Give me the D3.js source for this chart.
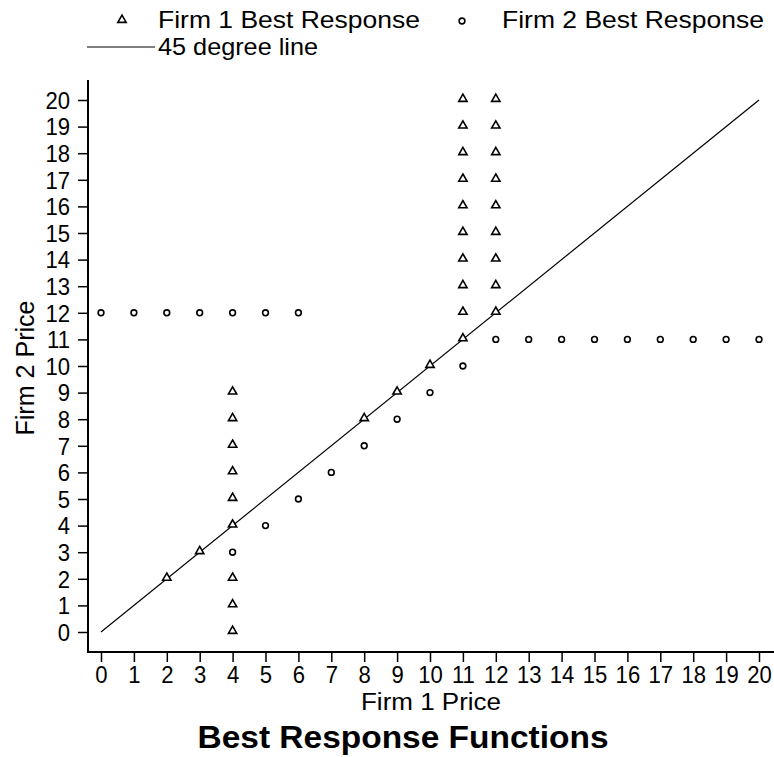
<!DOCTYPE html>
<html>
<head>
<meta charset="utf-8">
<script src="https://cdn.jsdelivr.net/npm/d3@7"></script>
<style>
  body { margin: 0; background: #fff; }
  svg { display: block; font-family: "Liberation Sans", Arial, sans-serif; }
</style>
</head>
<body>
<svg id="chart" width="774" height="757"></svg>
<script>
// best responses, [firm 1 price, firm 2 price]
const firm1BR = [
  [4,0],[4,1],[4,2],[2,2],[3,3],[4,4],[4,5],[4,6],[4,7],[4,8],[4,9],
  [8,8],[9,9],[10,10],
  [11,11],[11,12],[11,13],[11,14],[11,15],[11,16],[11,17],[11,18],[11,19],[11,20],
  [12,12],[12,13],[12,14],[12,15],[12,16],[12,17],[12,18],[12,19],[12,20]
];
const firm2BR = [
  [0,12],[1,12],[2,12],[3,12],[4,12],[5,12],[6,12],
  [4,3],[5,4],[6,5],[7,6],[8,7],[9,8],[10,9],[11,10],[12,11],
  [13,11],[14,11],[15,11],[16,11],[17,11],[18,11],[19,11],[20,11]
];
const diagonal = [[0,0],[20,20]];
const priceTicks = [0,1,2,3,4,5,6,7,8,9,10,11,12,13,14,15,16,17,18,19,20];

const svg = d3.select("#chart");

// squeeze text horizontally, the original font is a narrow one
function squeeze(sel, k) {
  sel.each(function() {
    const w = this.getComputedTextLength();
    d3.select(this).attr("textLength", w * k).attr("lengthAdjust", "spacingAndGlyphs");
  });
}

const x = d3.scaleLinear().domain([0, 20]).range([101, 759]);
const y = d3.scaleLinear().domain([0, 20]).range([632, 100]);

// axis frame
svg.append("line").attr("x1", 88).attr("x2", 88).attr("y1", 80).attr("y2", 652)
  .attr("stroke", "#000").attr("stroke-width", 2);
svg.append("line").attr("x1", 87).attr("x2", 774).attr("y1", 652).attr("y2", 652)
  .attr("stroke", "#000").attr("stroke-width", 2);

const yAxis = svg.append("g")
  .attr("transform", "translate(88,0)")
  .call(d3.axisLeft(y).tickValues(priceTicks).tickSize(10).tickPadding(8).tickFormat(d3.format("d")));
const xAxis = svg.append("g")
  .attr("transform", "translate(0,652)")
  .call(d3.axisBottom(x).tickValues(priceTicks).tickSize(10).tickPadding(5).tickFormat(d3.format("d")));

[yAxis, xAxis].forEach(g => {
  g.select(".domain").remove();
  g.selectAll(".tick line").attr("stroke", "#000").attr("stroke-width", 1.5);
  g.selectAll(".tick text")
    .attr("fill", "#000")
    .style("font-family", '"Liberation Sans", Arial, sans-serif')
    .style("font-size", "23px")
    .call(squeeze, 0.96);
});
yAxis.selectAll(".tick text").attr("dy", "0.36em");

// 45 degree line
svg.append("path")
  .datum(diagonal)
  .attr("d", d3.line().x(d => x(d[0])).y(d => y(d[1])))
  .attr("fill", "none").attr("stroke", "#000").attr("stroke-width", 1.2);

const tri = d3.symbol().type(d3.symbolTriangle).size(30);
const circ = d3.symbol().type(d3.symbolCircle).size(26);

svg.append("g").selectAll("path")
  .data(firm2BR).join("path")
  .attr("transform", d => `translate(${x(d[0])},${y(d[1])})`)
  .attr("d", circ)
  .attr("fill", "#fff").attr("stroke", "#000").attr("stroke-width", 1.6);

svg.append("g").selectAll("path")
  .data(firm1BR).join("path")
  .attr("transform", d => `translate(${x(d[0])},${y(d[1]) - 1})`)
  .attr("d", tri)
  .attr("fill", "#fff").attr("stroke", "#000").attr("stroke-width", 1.6);

// axis titles
svg.append("text")
  .attr("x", 431).attr("y", 710)
  .attr("text-anchor", "middle")
  .attr("textLength", 140).attr("lengthAdjust", "spacingAndGlyphs")
  .style("font-size", "23px")
  .text("Firm 1 Price");

svg.append("text")
  .attr("transform", "translate(34,368) rotate(-90)")
  .attr("text-anchor", "middle")
  .attr("textLength", 135).attr("lengthAdjust", "spacingAndGlyphs")
  .style("font-size", "25px")
  .text("Firm 2 Price");

svg.append("text")
  .attr("x", 403).attr("y", 748)
  .attr("text-anchor", "middle")
  .attr("textLength", 411).attr("lengthAdjust", "spacingAndGlyphs")
  .style("font-size", "32px").style("font-weight", "bold")
  .text("Best Response Functions");

// legend
const legend = svg.append("g");
legend.append("path")
  .attr("transform", "translate(122,20)")
  .attr("d", tri)
  .attr("fill", "#fff").attr("stroke", "#000").attr("stroke-width", 1.6);
legend.append("text").attr("x", 158).attr("y", 28)
  .attr("textLength", 262).attr("lengthAdjust", "spacingAndGlyphs")
  .style("font-size", "24px").text("Firm 1 Best Response");
legend.append("path")
  .attr("transform", "translate(462,21)")
  .attr("d", circ)
  .attr("fill", "#fff").attr("stroke", "#000").attr("stroke-width", 1.6);
legend.append("text").attr("x", 502).attr("y", 28)
  .attr("textLength", 262).attr("lengthAdjust", "spacingAndGlyphs")
  .style("font-size", "24px").text("Firm 2 Best Response");
legend.append("line")
  .attr("x1", 87).attr("x2", 155).attr("y1", 47).attr("y2", 47)
  .attr("stroke", "#000").attr("stroke-width", 1.2);
legend.append("text").attr("x", 158).attr("y", 55)
  .attr("textLength", 160).attr("lengthAdjust", "spacingAndGlyphs")
  .style("font-size", "24px").text("45 degree line");
</script>
</body>
</html>
